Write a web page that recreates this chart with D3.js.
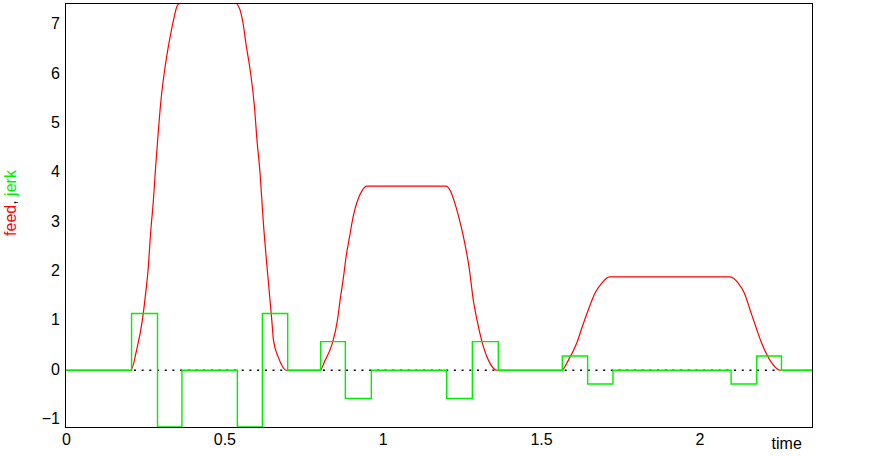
<!DOCTYPE html>
<html>
<head>
<meta charset="utf-8">
<script src="https://cdn.jsdelivr.net/npm/d3@7"></script>
<style>
  body { margin: 0; background: #fff; }
  text { font-family: Arial, "Liberation Sans", sans-serif; }
</style>
</head>
<body>
<div id="container"></div>
<script>
var width = 877,
    height = 456;

// feed curve (time, value)
var feedT = [0, 0.205, 0.223, 0.241, 0.249, 0.260, 0.267, 0.276, 0.283, 0.291, 0.300,
    0.313, 0.331, 0.342, 0.350, 0.357, 0.368,
    0.528, 0.539, 0.5495, 0.5598, 0.5685, 0.5811, 0.5956, 0.6021, 0.6126, 0.623, 0.636, 0.650,
    0.655, 0.670, 0.684, 0.695,
    0.802, 0.818, 0.841, 0.857, 0.865, 0.876, 0.885, 0.895, 0.907, 0.920, 0.934, 0.950,
    1.200, 1.213, 1.228, 1.241, 1.255, 1.274, 1.286, 1.298, 1.313, 1.334, 1.360,
    1.565, 1.586, 1.612, 1.630, 1.649, 1.670, 1.691, 1.716,
    2.097, 2.123, 2.142, 2.160, 2.178, 2.197, 2.223, 2.255, 2.36];
var feedV = [0, 0, 0.41, 1.01, 1.42, 2.10, 2.77, 3.45, 4.12, 4.80, 5.48,
    6.15, 6.83, 7.17, 7.37, 7.43, 7.5,
    7.5, 7.43, 7.3, 7.0, 6.6, 6.1, 5.3, 4.73, 4, 3, 2, 1,
    0.61, 0.27, 0.07, 0,
    0, 0.2, 0.55, 1.01, 1.40, 1.88, 2.33, 2.69, 3.12, 3.43, 3.63, 3.73,
    3.73, 3.64, 3.38, 3.08, 2.70, 2.03, 1.42, 1.01, 0.59, 0.2, 0,
    0, 0.2, 0.54, 0.88, 1.22, 1.56, 1.76, 1.89,
    1.89, 1.76, 1.56, 1.22, 0.88, 0.54, 0.2, 0, 0];

// jerk steps (time where the level starts, level)
var jerkT = [0, 0.207, 0.289, 0.366, 0.541, 0.620, 0.700,
    0.804, 0.882, 0.964, 1.202, 1.283, 1.365,
    1.567, 1.647, 1.727, 2.100, 2.181, 2.259, 2.36];
var jerkV = [0, 1.15, -1.15, 0, -1.15, 1.15, 0,
    0.58, -0.57, 0, -0.57, 0.58, 0,
    0.29, -0.28, 0, -0.28, 0.29, 0, 0];

// dotted zero line over each move
var dotStart = [0.205, 0.802, 1.565],
    dotEnd = [0.697, 1.360, 2.255];

var xTicks = [0, 0.5, 1, 1.5, 2],
    xLabels = ["0", "0.5", "1", "1.5", "2"];
var yTicks = [-1, 0, 1, 2, 3, 4, 5, 6, 7];

function DrawChart() {
    var pl = 65.5, pr = 812.5, pt = 3.5, pb = 427.5;

    var svg = d3.select("#container").append("svg")
        .attr("width", width)
        .attr("height", height);

    var x = d3.scaleLinear().domain([0, 2.357]).range([66, pr]);
    var y = d3.scaleLinear().domain([-1.16, 7.43]).range([pb, pt]);

    svg.append("clipPath").attr("id", "plot")
        .append("rect")
        .attr("x", pl).attr("y", pt)
        .attr("width", pr - pl).attr("height", pb - pt);

    var g = svg.append("g").attr("clip-path", "url(#plot)");

    // dotted zero segments
    g.selectAll(".dots")
        .data(dotStart.map((d, i) => [d, dotEnd[i]]))
        .enter().append("line")
        .attr("x1", d => x(d[0]) + 3)
        .attr("x2", d => x(d[1]))
        .attr("y1", y(0)).attr("y2", y(0))
        .attr("stroke", "#000")
        .attr("stroke-width", 1.3)
        .attr("stroke-dasharray", "2,5.7");

    var feed = feedT.map((t, i) => [t, feedV[i]]);
    var jerk = jerkT.map((t, i) => [t, jerkV[i]]);

    g.append("path")
        .datum(feed)
        .attr("fill", "none")
        .attr("stroke", "#ff0000")
        .attr("stroke-width", 1.2)
        .attr("d", d3.line().x(d => x(d[0])).y(d => y(d[1])).curve(d3.curveMonotoneX));

    g.append("path")
        .datum(jerk)
        .attr("fill", "none")
        .attr("stroke", "#00ee00")
        .attr("stroke-width", 1.4)
        .attr("d", d3.line().x(d => x(d[0])).y(d => y(d[1])).curve(d3.curveStepAfter));

    // frame
    svg.append("rect")
        .attr("x", pl).attr("y", pt)
        .attr("width", pr - pl).attr("height", pb - pt)
        .attr("fill", "none")
        .attr("stroke", "#000")
        .attr("stroke-width", 1);

    var xAxis = svg.append("g")
        .attr("transform", "translate(0," + pb + ")")
        .call(d3.axisBottom(x).tickValues(xTicks).tickSize(0).tickPadding(6)
            .tickFormat((d, i) => xLabels[i]));
    var yAxis = svg.append("g")
        .attr("transform", "translate(" + pl + ",0)")
        .call(d3.axisLeft(y).tickValues(yTicks).tickSize(0).tickPadding(5.5));

    [xAxis, yAxis].forEach(a => {
        a.select(".domain").remove();
        a.attr("font-family", null).attr("font-size", null);
        a.selectAll("text").style("font-size", "16px").attr("fill", "#000");
    });
    yAxis.selectAll("text").attr("dy", "0.25em");

    svg.append("text")
        .attr("x", 786.7).attr("y", 449)
        .attr("text-anchor", "middle")
        .style("font-size", "16px")
        .text("time");

    var yl = svg.append("text")
        .attr("transform", "translate(16,203) rotate(-90)")
        .attr("text-anchor", "middle")
        .style("font-size", "16px");
    yl.append("tspan").attr("fill", "#ff0000").text("feed");
    yl.append("tspan").attr("fill", "#000").text(",");
    yl.append("tspan").attr("fill", "#00ee00").text(" jerk");
}
DrawChart();
</script>
</body>
</html>
